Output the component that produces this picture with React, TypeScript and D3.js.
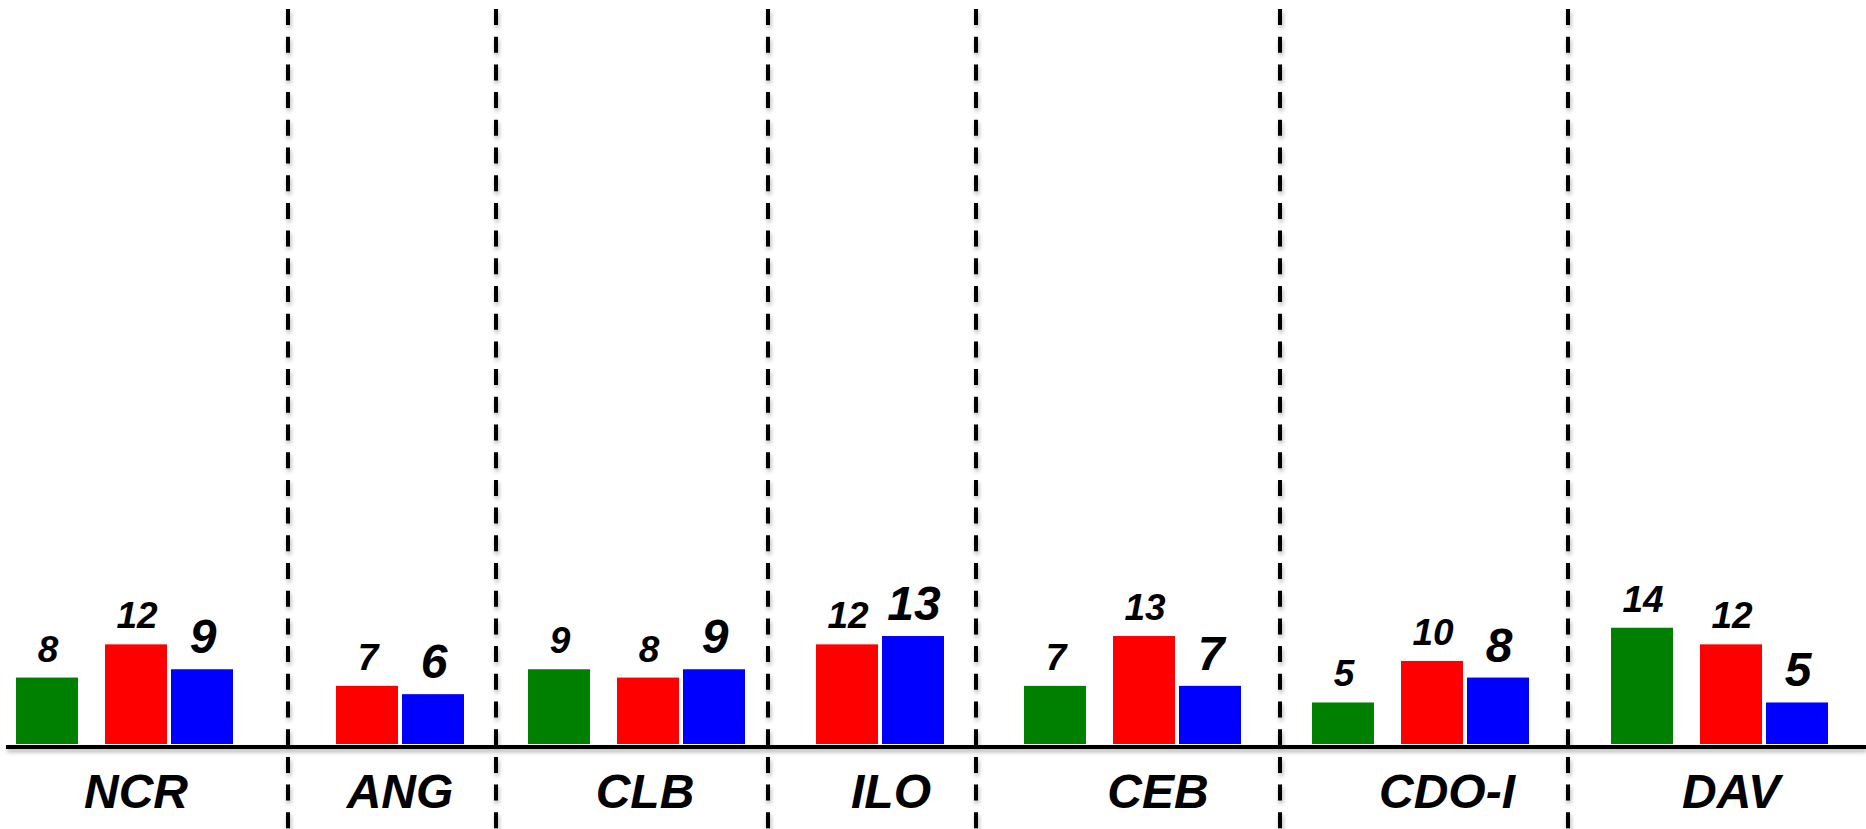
import React from "react";
import * as d3 from "d3";

// ---------- data ----------
const categories = ["NCR", "ANG", "CLB", "ILO", "CEB", "CDO-I", "DAV"];
const seriesKeys = ["green", "red", "blue"];
const greenValues: (number | null)[] = [8, null, 9, null, 7, 5, 14];
const redValues: (number | null)[] = [12, 7, 8, 12, 13, 10, 12];
const blueValues: (number | null)[] = [9, 6, 9, 13, 7, 8, 5];

// ---------- layout (not data) ----------
const W = 1866;
const H = 829;
const groupAnchorX = [16, 247, 528, 727, 1024, 1312, 1611];
const seriesOffset = [0, 89, 155];
const separatorX = [288, 496, 768, 976, 1280, 1568];
const labelX = [136, 400, 645, 891, 1158, 1447, 1731];
const barWidth = 62;
const baseY = 744;
const axisY = 747;
const colors = ["#008000", "#ff0000", "#0000ff"];
const valueFont = [37, 37, 48];

export default function App() {
  const x = d3.scaleOrdinal<string, number>().domain(categories).range(groupAnchorX);
  const off = d3.scaleOrdinal<string, number>().domain(seriesKeys).range(seriesOffset);
  const color = d3.scaleOrdinal<string, string>().domain(seriesKeys).range(colors);
  const fontSize = d3.scaleOrdinal<string, number>().domain(seriesKeys).range(valueFont);
  const y = d3.scaleLinear().domain([0, 88.5]).range([baseY, 9]);
  const labelPos = d3.scaleOrdinal<string, number>().domain(categories).range(labelX);

  const valuesBySeries: Record<string, (number | null)[]> = {
    green: greenValues,
    red: redValues,
    blue: blueValues,
  };

  const bars: { key: string; cat: string; s: string; v: number }[] = [];
  categories.forEach((cat, i) => {
    seriesKeys.forEach((s) => {
      const v = valuesBySeries[s][i];
      if (v != null) bars.push({ key: cat + s, cat, s, v });
    });
  });

  const font = "'Liberation Sans', Arial, Helvetica, sans-serif";

  return (
    <svg
      width={W}
      height={H}
      style={{ position: "absolute", left: 0, top: 0, display: "block", background: "#fff" }}
    >
      <defs>
        <filter id="sh" filterUnits="userSpaceOnUse" x={0} y={0} width={W} height={H}>
          <feDropShadow dx="1" dy="3" stdDeviation="2" floodColor="#000" floodOpacity="0.3" />
        </filter>
      </defs>
      <rect x={0} y={0} width={W} height={H} fill="#fff" />

      {separatorX.map((sx, i) => (
        <line
          key={"sep" + i}
          x1={sx}
          x2={sx}
          y1={9}
          y2={H}
          stroke="#000"
          strokeWidth={4}
          strokeDasharray="16 11.7"
          filter="url(#sh)"
        />
      ))}

      {bars.map((b) => {
        const bx = (x(b.cat) as number) + (off(b.s) as number);
        const by = y(b.v);
        return (
          <g key={b.key}>
            <rect x={bx} y={by} width={barWidth} height={baseY - by} fill={color(b.s)} />
            <text
              x={bx + barWidth / 2 + 1}
              y={by - 16}
              textAnchor="middle"
              fontFamily={font}
              fontWeight="bold"
              fontStyle="italic"
              fontSize={fontSize(b.s)}
              fill="#000"
            >
              {b.v}
            </text>
          </g>
        );
      })}

      <line x1={6} x2={W} y1={axisY} y2={axisY} stroke="#000" strokeWidth={4} filter="url(#sh)" />

      {categories.map((c) => (
        <text
          key={"lab" + c}
          x={labelPos(c)}
          y={808}
          textAnchor="middle"
          fontFamily={font}
          fontWeight="bold"
          fontStyle="italic"
          fontSize={48}
          fill="#000"
        >
          {c}
        </text>
      ))}
    </svg>
  );
}
